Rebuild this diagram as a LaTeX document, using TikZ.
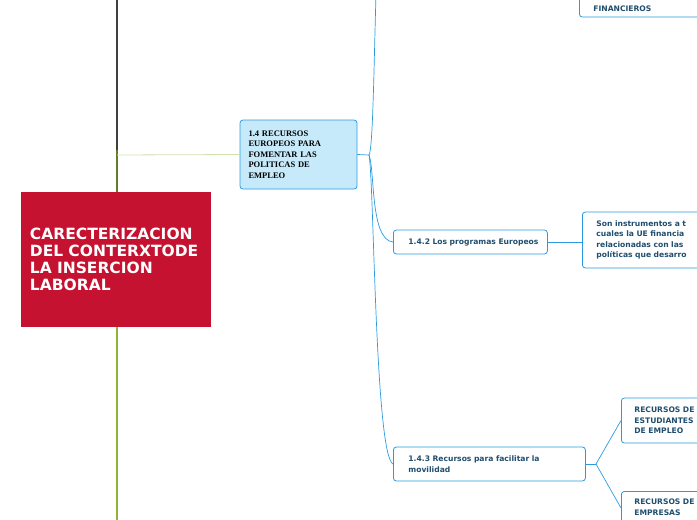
\documentclass[tikz,border=0pt]{standalone}
\usepackage{fontspec}
\setmainfont{DejaVu Sans}
\newfontfamily\timesfont{Liberation Serif}
\usetikzlibrary{positioning}
\definecolor{mainred}{HTML}{C41230}
\definecolor{linkblue}{HTML}{2A9BE0}
\definecolor{boxblue}{HTML}{C7EAFB}
\definecolor{inkblue}{HTML}{1F4E6E}
\definecolor{stemgreen}{HTML}{8DB33A}
\tikzset{
    root/.style={fill=mainred,text=white,font=\bfseries\fontsize{15.5}{17}\selectfont,
        minimum width=190pt,minimum height=135pt,text width=172pt,align=left,inner sep=0pt},
    topic/.style={draw=linkblue,fill=boxblue,rounded corners=3pt,line width=0.8pt,
        font=\timesfont\bfseries\fontsize{8.5}{10.5}\selectfont,align=left,
        minimum width=117pt,minimum height=69pt,text width=100pt,inner sep=0pt},
    sub/.style={draw=linkblue,fill=white,rounded corners=3pt,line width=0.8pt,text=inkblue,
        font=\bfseries\fontsize{7.6}{10.5}\selectfont,align=left,anchor=west,inner sep=0pt},
    link/.style={draw=linkblue,line width=0.7pt},
}
\begin{document}
\begin{tikzpicture}[x=1pt,y=-1pt]
\useasboundingbox (0,0) rectangle (697,520);
\clip (0,0) rectangle (697,520);
% trunk
\draw[line width=2.5pt,black!75] (117,-5) -- (117,150);
\draw[line width=2.5pt,stemgreen!70!black] (117,150) -- (117,192);
\draw[line width=2.5pt,stemgreen] (117,327) -- (117,525);
\node[root] (main) at (116,259.5) {CARECTERIZACION\\DEL CONTERXTODE\\LA INSERCION\\LABORAL};
\node[topic] (recursos) at (298.5,154.5) {1.4 RECURSOS\\EUROPEOS PARA\\FOMENTAR LAS\\POLITICAS DE\\EMPLEO};
\draw[stemgreen!40,line width=0.8pt] (117,155) -- (recursos.west);
% level 2
\node[sub,minimum width=154pt,minimum height=24pt,text width=140pt] (programas) at (393,242)
    {\hspace*{8pt}1.4.2 Los programas Europeos};
\node[sub,minimum width=192pt,minimum height=34pt,text width=178pt] (movilidad) at (393,464)
    {\hspace*{8pt}\parbox{170pt}{1.4.3 Recursos para facilitar la\\movilidad}};
\coordinate (top) at (376,-5);
\coordinate (hub) at (369,155);
\draw[link] (recursos.east) -- (hub);
\draw[link] (hub) .. controls (373,150) and (374,60) .. (top);
\draw[link] (hub) .. controls (375,170) and (370,240) .. (programas.west);
\draw[link] (hub) .. controls (374,180) and (375,455) .. (movilidad.west);
% level 3
\node[sub,minimum width=140pt,minimum height=40pt,text width=128pt] (financieros) at (579,-3)
    {\hspace*{8pt}\parbox[b]{120pt}{\vspace*{24pt}FINANCIEROS}};
\node[sub,minimum width=140pt,minimum height=56pt,text width=128pt] (instrumentos) at (582,240)
    {\hspace*{8pt}\parbox{125pt}{Son instrumentos a t\\cuales la UE financia\\relacionadas con las\\políticas que desarro}};
\node[sub,minimum width=100pt,minimum height=45pt,text width=90pt] (estudiantes) at (621,420.5)
    {\hspace*{8pt}\parbox{85pt}{RECURSOS DE\\ESTUDIANTES\\DE EMPLEO}};
\node[sub,minimum width=100pt,minimum height=45pt,text width=90pt,anchor=north west] (empresas) at (621,491)
    {\hspace*{8pt}\parbox[c][42pt][t]{85pt}{\vspace*{6pt}RECURSOS DE\\EMPRESAS}};
\draw[link] (programas.east) -- (instrumentos.west |- programas.east);
\coordinate (fork) at (596,464);
\draw[link] (movilidad.east) -- (fork);
\draw[link] (fork) -- (estudiantes.west);
\draw[link] (fork) -- (621,508);
\end{tikzpicture}
\end{document}
